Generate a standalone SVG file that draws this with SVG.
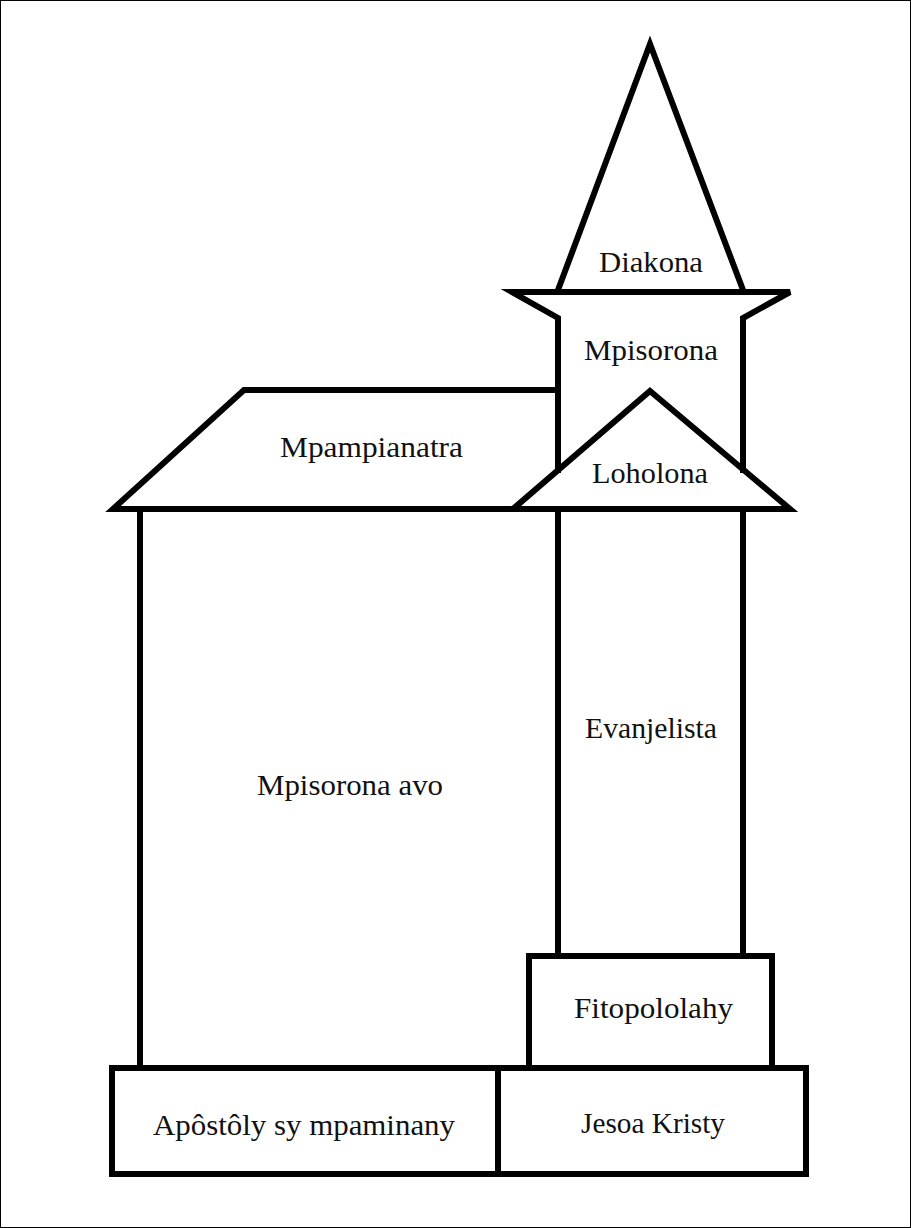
<svg xmlns="http://www.w3.org/2000/svg" width="911" height="1228" viewBox="0 0 911 1228">
<style>
.s{fill:none;stroke:#000;stroke-width:6;stroke-linejoin:miter;stroke-linecap:square}
.t{font-family:"Liberation Serif","DejaVu Serif",serif;font-size:29px;fill:#111;text-anchor:middle}
</style>
<rect x="0.5" y="0.5" width="910" height="1227" fill="#fff" stroke="#000" stroke-width="1"/>
<g id="diakona">
<polyline class="s" points="558,290 650,44 743,290"/>
<text class="t" x="651" y="272" textLength="104" lengthAdjust="spacingAndGlyphs">Diakona</text>
</g>
<g id="mpisorona">
<polyline class="s" points="558,470 558,318 512,292 790,292 743,318 743,470"/>
<text class="t" x="651" y="360" textLength="134" lengthAdjust="spacingAndGlyphs">Mpisorona</text>
</g>
<g id="mpampianatra">
<polyline class="s" points="558,390 244,390 113,509 513,509"/>
<text class="t" x="371.5" y="457" textLength="183" lengthAdjust="spacingAndGlyphs">Mpampianatra</text>
</g>
<g id="loholona">
<polygon class="s" points="650,391 790,509 513,509"/>
<text class="t" x="650" y="483" textLength="116" lengthAdjust="spacingAndGlyphs">Loholona</text>
</g>
<g id="evanjelista">
<line class="s" x1="558" y1="509" x2="558" y2="955"/>
<line class="s" x1="743" y1="509" x2="743" y2="955"/>
<text class="t" x="651" y="738" textLength="132" lengthAdjust="spacingAndGlyphs">Evanjelista</text>
</g>
<g id="mpisorona-avo">
<line class="s" x1="140" y1="509" x2="140" y2="1068"/>
<text class="t" x="350" y="795" textLength="186" lengthAdjust="spacingAndGlyphs">Mpisorona avo</text>
</g>
<g id="fitopololahy">
<rect class="s" x="529" y="956" width="243" height="112"/>
<text class="t" x="653.5" y="1018" textLength="159" lengthAdjust="spacingAndGlyphs">Fitopololahy</text>
</g>
<g id="apostoly">
<rect class="s" x="112" y="1068" width="386" height="106"/>
<text class="t" x="304" y="1135" textLength="302" lengthAdjust="spacingAndGlyphs">Apôstôly sy mpaminany</text>
</g>
<g id="jesoa-kristy">
<rect class="s" x="498" y="1068" width="308" height="106"/>
<text class="t" x="653" y="1133" textLength="144" lengthAdjust="spacingAndGlyphs">Jesoa Kristy</text>
</g>
<g id="connectors"></g>
</svg>
